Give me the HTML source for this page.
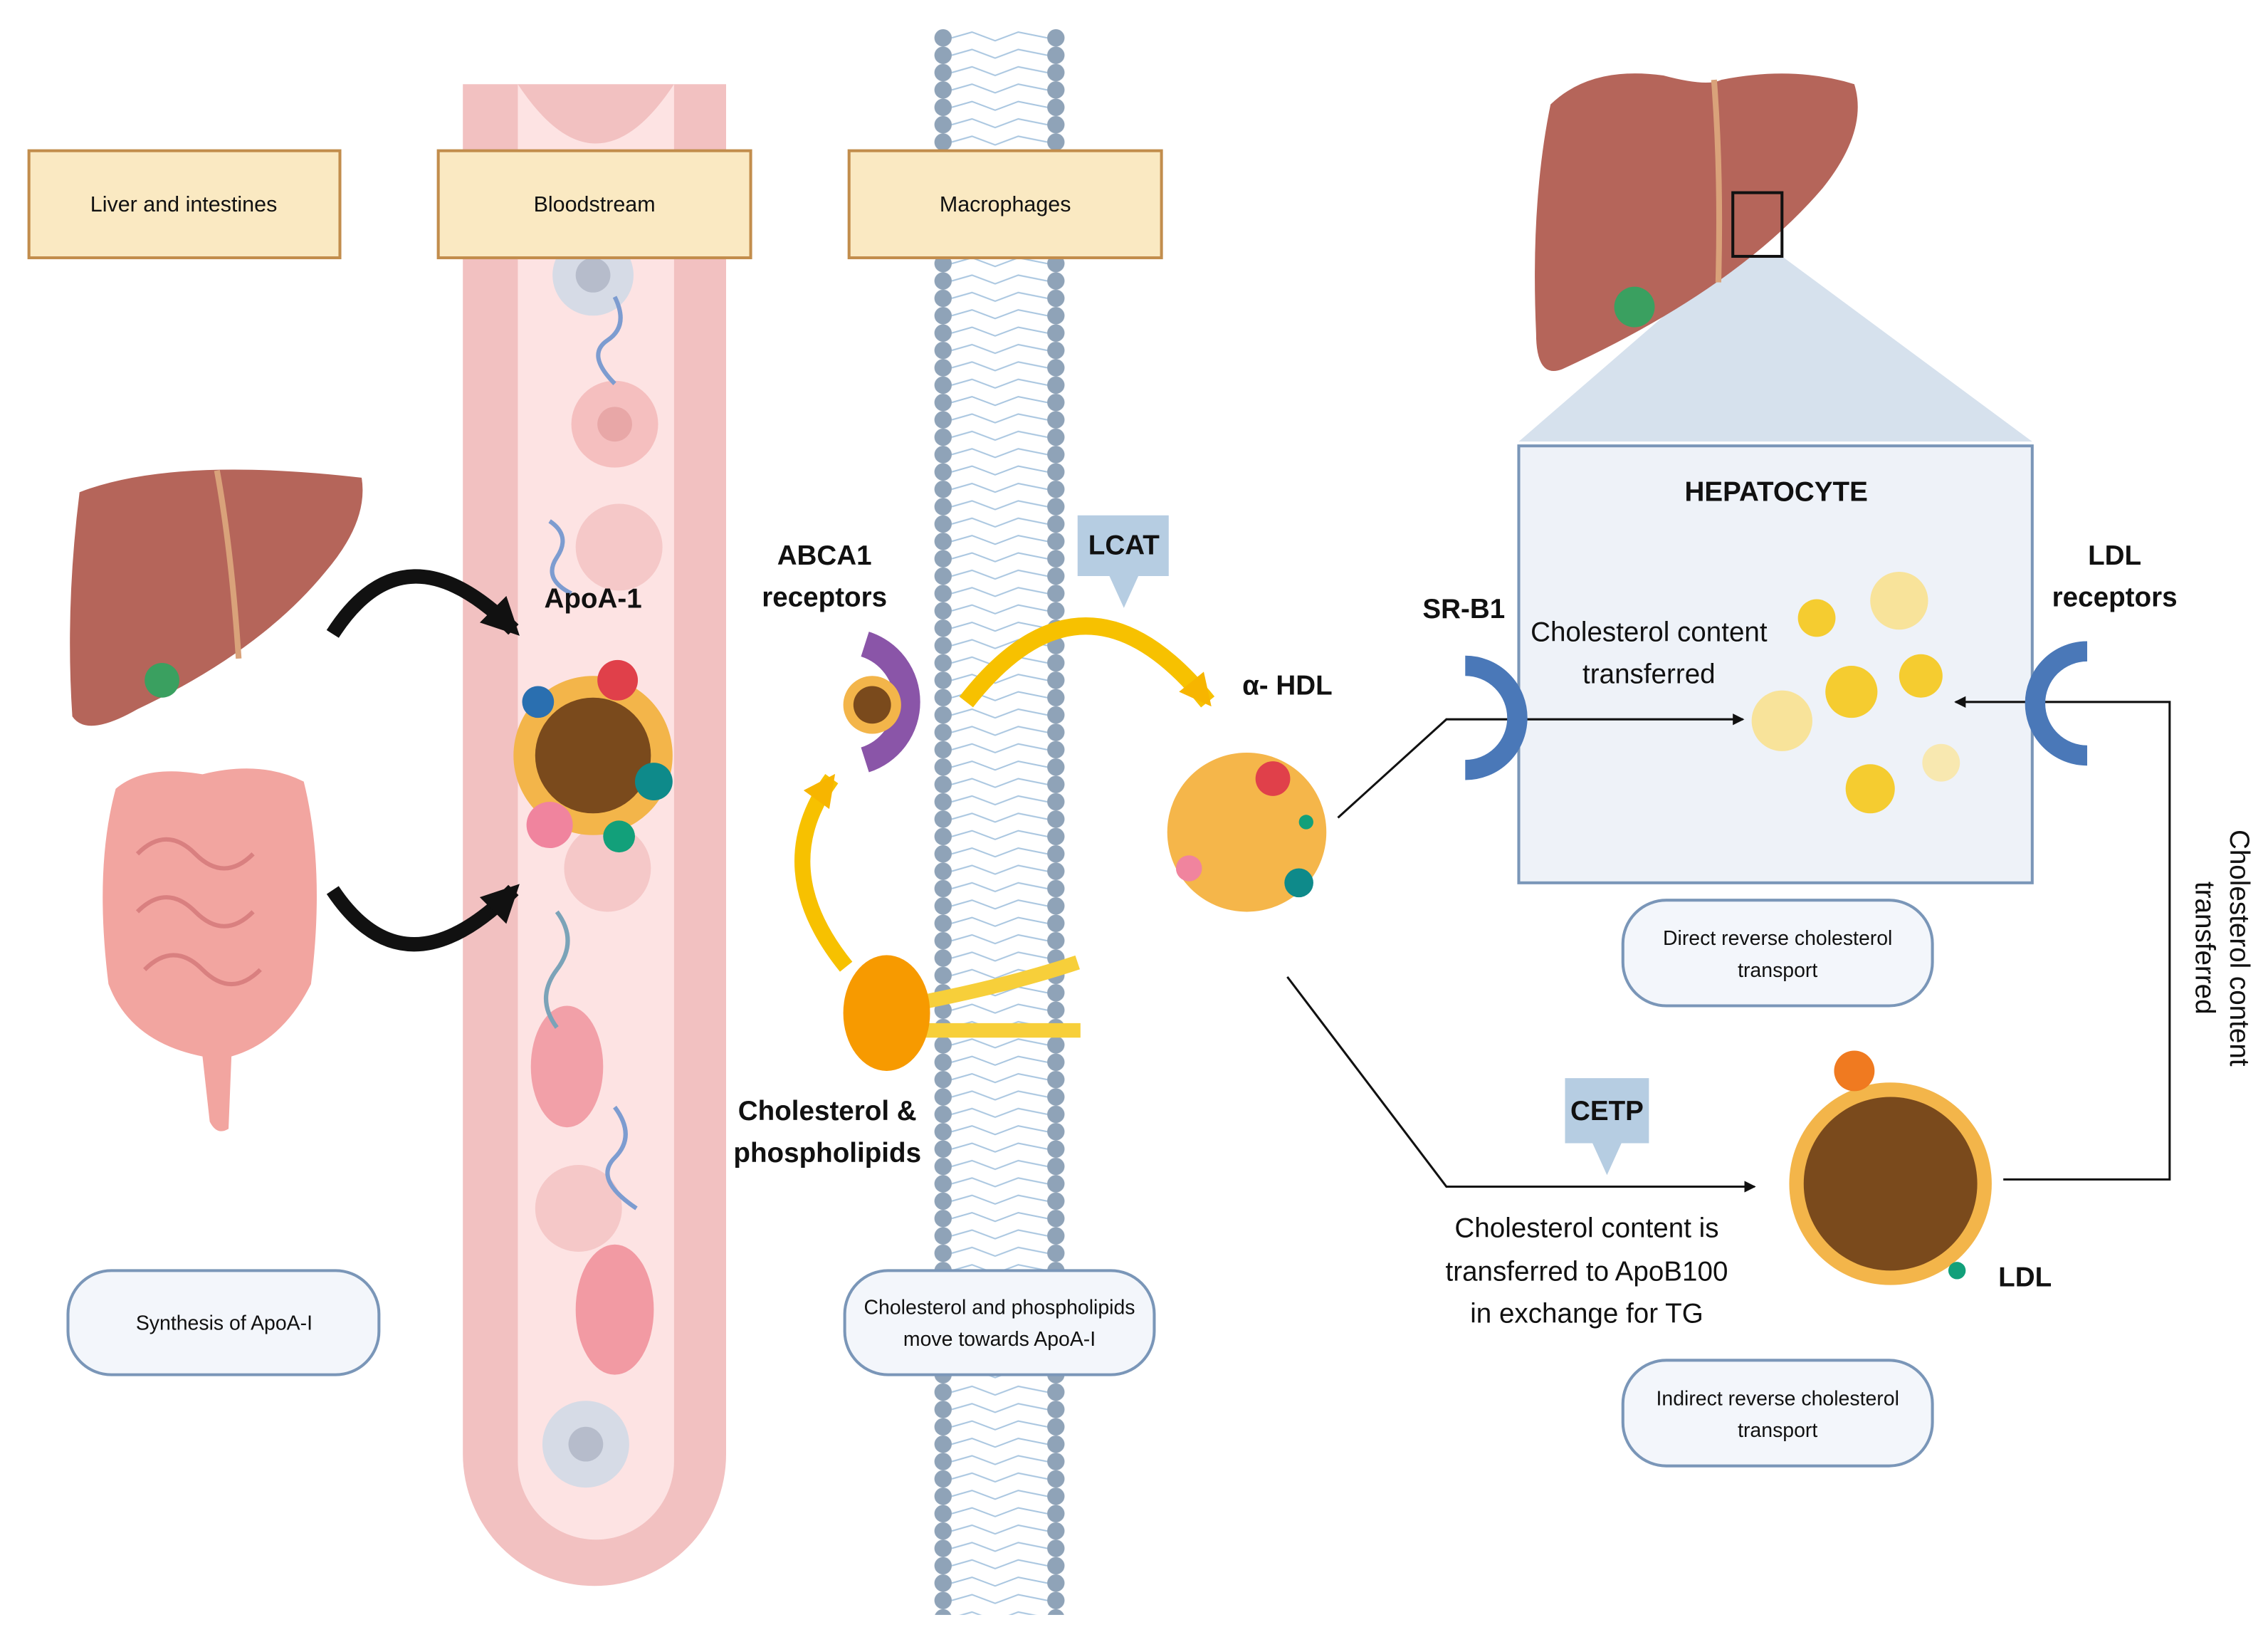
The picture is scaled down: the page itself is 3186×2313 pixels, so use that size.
<!DOCTYPE html>
<html><head><meta charset="utf-8">
<style>
html,body{margin:0;padding:0;background:#fff;}
svg{display:block;}
text{font-family:"Liberation Sans",sans-serif;fill:#111;}
</style></head>
<body>
<svg width="3186" height="2313" viewBox="0 0 1568 1138" xmlns="http://www.w3.org/2000/svg">
<defs>
<marker id="ah" markerWidth="8" markerHeight="8" refX="7" refY="4" orient="auto" markerUnits="userSpaceOnUse"><path d="M0,0 L8,4 L0,8 Z" fill="#111"/></marker>
<marker id="ay" markerWidth="22" markerHeight="22" refX="18" refY="11" orient="auto" markerUnits="userSpaceOnUse"><path d="M0,0 L22,11 L0,22 Z" fill="#f7b500"/></marker>
<marker id="ab" markerWidth="26" markerHeight="26" refX="20" refY="13" orient="auto" markerUnits="userSpaceOnUse"><path d="M0,0 L26,13 L0,26 Z" fill="#111"/></marker>
<pattern id="mem" x="642" y="20" width="96" height="12" patternUnits="userSpaceOnUse">
<circle cx="10" cy="6" r="6" fill="#8fa3b8"/><circle cx="88" cy="6" r="6" fill="#8fa3b8"/>
<path d="M16,6 L30,2 L46,8 L62,2 L82,6" stroke="#a9c6e0" stroke-width="1" fill="none"/>
</pattern>
</defs>

<rect x="642" y="20" width="96" height="1096" fill="url(#mem)"/>

<!-- blood vessel -->
<path d="M320,58 L502,58 L502,1005 A91,91 0 0 1 320,1005 Z" fill="#f2c1c1"/>
<path d="M358,58 Q412,140 466,58 L466,1010 A54,54 0 0 1 358,1010 Z" fill="#fde3e3"/>
<circle cx="410" cy="190" r="28" fill="#d6dbe6"/><circle cx="410" cy="190" r="12" fill="#b6bccb"/>
<circle cx="425" cy="293" r="30" fill="#f5bfbf"/><circle cx="425" cy="293" r="12" fill="#e8a7a7"/>
<circle cx="428" cy="378" r="30" fill="#f5c8c8"/>
<circle cx="420" cy="600" r="30" fill="#f5c8c8"/>
<ellipse cx="392" cy="737" rx="25" ry="42" fill="#f2a0a8"/>
<circle cx="400" cy="835" r="30" fill="#f5c8c8"/>
<ellipse cx="425" cy="905" rx="27" ry="45" fill="#f29aa3"/>
<circle cx="405" cy="998" r="30" fill="#d6dbe6"/><circle cx="405" cy="998" r="12" fill="#b6bccb"/>
<path d="M425,205 q10,20 -5,30 t5,30" stroke="#7d9cd0" stroke-width="3" fill="none"/>
<path d="M380,360 q15,10 5,25 t10,25" stroke="#7d9cd0" stroke-width="3" fill="none"/>
<path d="M385,630 q15,20 0,40 t0,40" stroke="#7ba3b8" stroke-width="3" fill="none"/>
<path d="M425,765 q15,20 0,35 t15,35" stroke="#7d9cd0" stroke-width="3" fill="none"/>

<!-- label boxes -->
<g stroke="#c28d4c" stroke-width="2" fill="#fae9c2">
<rect x="20" y="104" width="215" height="74"/>
<rect x="303" y="104" width="216" height="74"/>
<rect x="587" y="104" width="216" height="74"/>
</g>
<g font-size="15" text-anchor="middle">
<text x="127" y="146">Liver and intestines</text>
<text x="411" y="146">Bloodstream</text>
<text x="695" y="146">Macrophages</text>
</g>

<!-- left liver -->
<path d="M55,340 Q120,315 250,330 Q255,360 225,395 Q180,450 95,490 Q60,510 50,495 Q45,420 55,340 Z" fill="#b5655a"/>
<path d="M150,325 Q160,380 165,455" stroke="#d9a27a" stroke-width="4" fill="none"/>
<circle cx="112" cy="470" r="12" fill="#3aa060"/>
<!-- intestines -->
<path d="M80,545 Q100,528 140,535 Q180,525 210,540 Q225,600 215,680 Q195,720 160,730 L158,780 Q150,785 145,775 L140,730 Q90,720 75,680 Q65,600 80,545 Z" fill="#f2a5a0"/>
<path d="M95,590 q20,-20 40,0 t40,0 M95,630 q20,-20 40,0 t40,0 M100,670 q20,-20 40,0 t40,0" stroke="#d98080" stroke-width="3" fill="none"/>
<path d="M230,438 Q280,360 355,435" stroke="#111" stroke-width="10" fill="none" marker-end="url(#ab)"/>
<path d="M230,615 Q280,690 355,615" stroke="#111" stroke-width="10" fill="none" marker-end="url(#ab)"/>

<!-- ApoA-1 -->
<text x="410" y="420" font-size="19" font-weight="bold" text-anchor="middle">ApoA-1</text>
<circle cx="410" cy="522" r="55" fill="#f3b54a"/>
<circle cx="410" cy="522" r="40" fill="#7a4a1c"/>
<circle cx="427" cy="470" r="14" fill="#e0404a"/>
<circle cx="380" cy="570" r="16" fill="#f0849e"/>
<circle cx="452" cy="540" r="13" fill="#0e8a8a"/>
<circle cx="428" cy="578" r="11" fill="#12a07a"/>
<circle cx="372" cy="485" r="11" fill="#2a6fb0"/>

<!-- ABCA1 -->
<text x="570" y="390" font-size="19" font-weight="bold" text-anchor="middle">ABCA1</text>
<text x="570" y="419" font-size="19" font-weight="bold" text-anchor="middle">receptors</text>
<path d="M598,445 A42,42 0 0 1 598,525" stroke="#8a55a8" stroke-width="18" fill="none"/>
<circle cx="603" cy="487" r="20" fill="#f3b54a"/><circle cx="603" cy="487" r="13" fill="#7a4a1c"/>

<!-- LCAT -->
<path d="M745,356 L808,356 L808,398 L787,398 L777,420 L767,398 L745,398 Z" fill="#b6cde2"/>
<text x="777" y="383" font-size="19" font-weight="bold" text-anchor="middle">LCAT</text>
<path d="M668,485 Q750,380 835,485" stroke="#f7c100" stroke-width="12" fill="none" marker-end="url(#ay)"/>
<path d="M585,668 Q530,600 575,538" stroke="#f7c100" stroke-width="11" fill="none" marker-end="url(#ay)"/>

<path d="M640,692 Q700,680 745,665 M640,712 L747,712" stroke="#f7cf3a" stroke-width="10" fill="none"/>
<ellipse cx="613" cy="700" rx="30" ry="40" fill="#f79a00"/>
<text x="572" y="774" font-size="19" font-weight="bold" text-anchor="middle">Cholesterol &amp;</text>
<text x="572" y="803" font-size="19" font-weight="bold" text-anchor="middle">phospholipids</text>

<!-- alpha HDL -->
<text x="890" y="480" font-size="19" font-weight="bold" text-anchor="middle">α- HDL</text>
<circle cx="862" cy="575" r="55" fill="#f5b64a"/>
<circle cx="880" cy="538" r="12" fill="#e0404a"/>
<circle cx="822" cy="600" r="9" fill="#f0849e"/>
<circle cx="898" cy="610" r="10" fill="#0e8a8a"/>
<circle cx="903" cy="568" r="5" fill="#12a07a"/>

<!-- right liver -->
<polygon points="1050,305 1198,177 1232,177 1405,305" fill="#d6e1ed"/>
<path d="M1072,72 Q1100,45 1150,52 Q1180,60 1190,55 Q1240,45 1282,58 Q1292,90 1260,130 Q1200,200 1080,255 Q1062,262 1062,230 Q1058,140 1072,72 Z" fill="#b5655a"/>
<path d="M1185,55 Q1190,120 1188,195" stroke="#d9a27a" stroke-width="4" fill="none"/>
<circle cx="1130" cy="212" r="14" fill="#3aa060"/>
<rect x="1198" y="133" width="34" height="44" fill="none" stroke="#111" stroke-width="2"/>

<!-- hepatocyte -->
<rect x="1050" y="308" width="355" height="302" fill="#eef2f8" stroke="#7a96b8" stroke-width="2"/>
<text x="1228" y="346" font-size="19" font-weight="bold" text-anchor="middle">HEPATOCYTE</text>
<text x="1140" y="443" font-size="19" text-anchor="middle">Cholesterol content</text>
<text x="1140" y="472" font-size="19" text-anchor="middle">transferred</text>
<g fill="#f5cc30">
<circle cx="1256" cy="427" r="13"/>
<circle cx="1313" cy="415" r="20" fill="#f8e39a"/>
<circle cx="1280" cy="478" r="18"/>
<circle cx="1328" cy="467" r="15"/>
<circle cx="1232" cy="498" r="21" fill="#f8e39a"/>
<circle cx="1293" cy="545" r="17"/>
<circle cx="1342" cy="527" r="13" fill="#f8e8b0"/>
</g>

<!-- connectors (on top) -->
<path d="M925,565 L1000,497 L1205,497" stroke="#111" stroke-width="1.5" fill="none" marker-end="url(#ah)"/>
<path d="M1385,815 L1500,815 L1500,485 L1352,485" stroke="#111" stroke-width="1.5" fill="none" marker-end="url(#ah)"/>
<path d="M890,675 L1000,820 L1213,820" stroke="#111" stroke-width="1.5" fill="none" marker-end="url(#ah)"/>

<text x="1012" y="427" font-size="19" font-weight="bold" text-anchor="middle">SR-B1</text>
<path d="M1013,460 A36,36 0 0 1 1013,532" stroke="#4a78b8" stroke-width="14" fill="none"/>
<text x="1462" y="390" font-size="19" font-weight="bold" text-anchor="middle">LDL</text>
<text x="1462" y="419" font-size="19" font-weight="bold" text-anchor="middle">receptors</text>
<path d="M1443,450 A36,36 0 0 0 1443,522" stroke="#4a78b8" stroke-width="14" fill="none"/>

<!-- CETP -->
<path d="M1082,745 L1140,745 L1140,790 L1121,790 L1111,812 L1101,790 L1082,790 Z" fill="#b6cde2"/>
<text x="1111" y="774" font-size="19" font-weight="bold" text-anchor="middle">CETP</text>
<g font-size="19" text-anchor="middle">
<text x="1097" y="855">Cholesterol content is</text>
<text x="1097" y="885">transferred to ApoB100</text>
<text x="1097" y="914">in exchange for TG</text>
</g>

<circle cx="1307" cy="818" r="70" fill="#f3b54a"/>
<circle cx="1307" cy="818" r="60" fill="#7a4a1c"/>
<circle cx="1282" cy="740" r="14" fill="#f07a20"/>
<circle cx="1353" cy="878" r="6" fill="#12a07a"/>
<text x="1400" y="889" font-size="19" font-weight="bold" text-anchor="middle">LDL</text>

<g transform="translate(1540,655) rotate(90)" font-size="19" text-anchor="middle">
<text x="0" y="-2">Cholesterol content</text>
<text x="0" y="22">transferred</text>
</g>

<!-- pills -->
<g fill="#f3f6fb" stroke="#7a96b8" stroke-width="2">
<rect x="47" y="878" width="215" height="72" rx="30"/>
<rect x="584" y="878" width="214" height="72" rx="30"/>
<rect x="1122" y="622" width="214" height="73" rx="30"/>
<rect x="1122" y="940" width="214" height="73" rx="30"/>
</g>
<g font-size="14" text-anchor="middle">
<text x="155" y="919">Synthesis of ApoA-I</text>
<text x="691" y="908">Cholesterol and phospholipids</text>
<text x="691" y="930">move towards ApoA-I</text>
<text x="1229" y="653">Direct  reverse cholesterol</text>
<text x="1229" y="675">transport</text>
<text x="1229" y="971">Indirect reverse cholesterol</text>
<text x="1229" y="993">transport</text>
</g>
</svg>
</body></html>
